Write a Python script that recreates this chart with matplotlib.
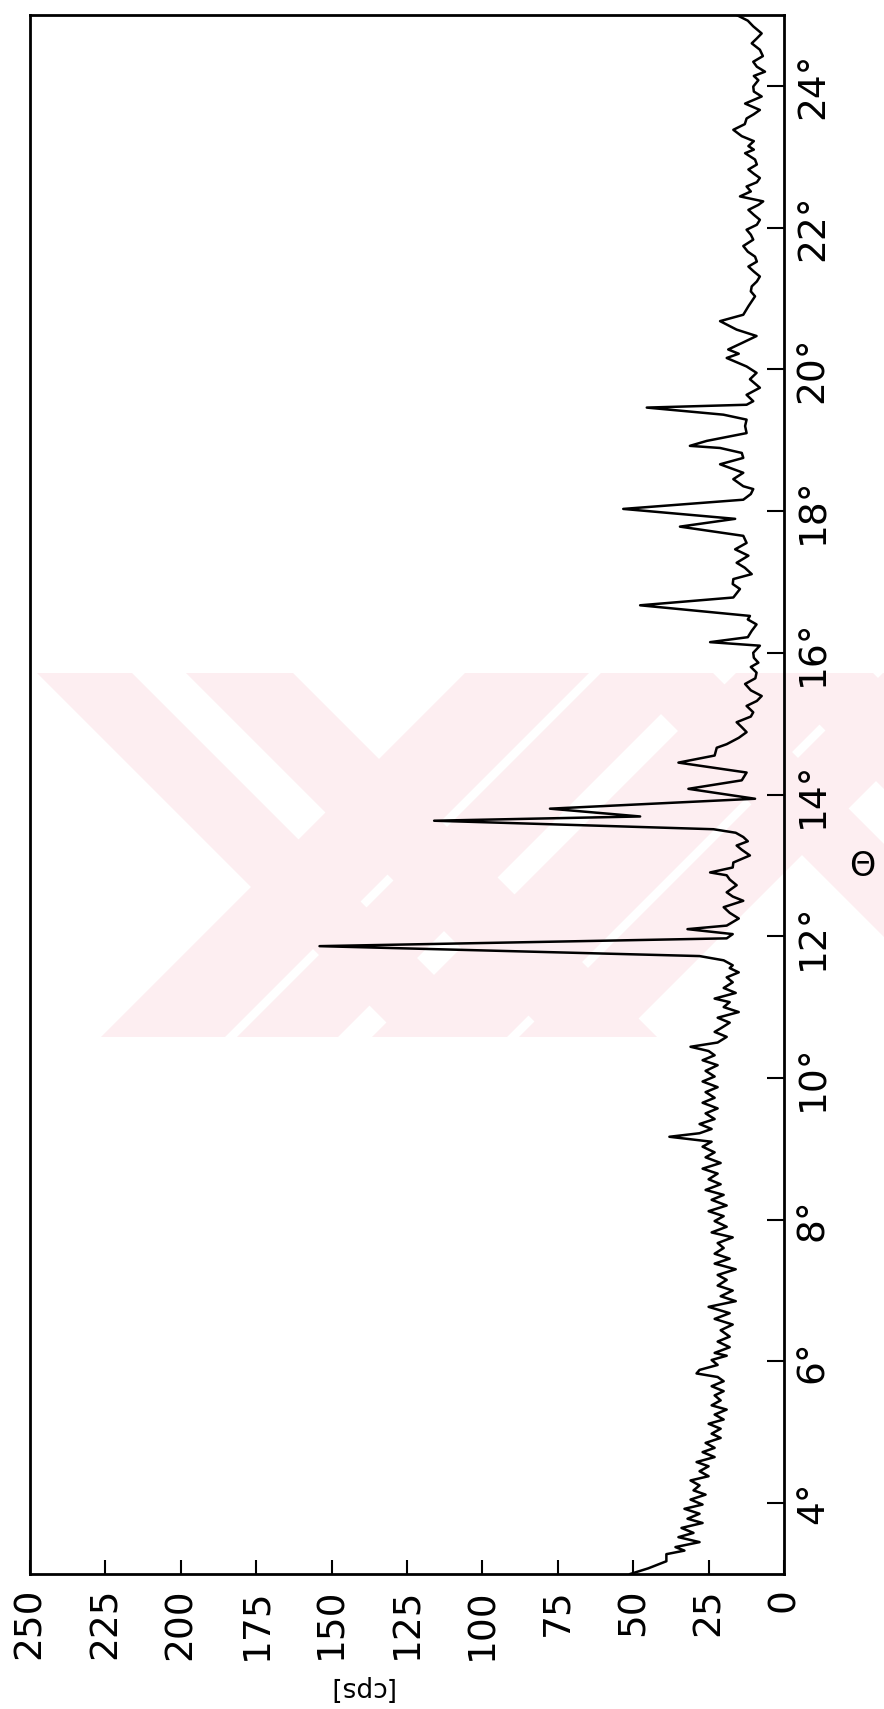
import matplotlib
matplotlib.use("Agg")
import matplotlib.pyplot as plt
from matplotlib.patches import Polygon, Rectangle

# diffraction scan: angle theta (deg) and intensity (counts per second)
theta = [3.00, 3.08, 3.18, 3.28, 3.33, 3.38, 3.45, 3.52, 3.58, 3.65, 3.72, 3.78, 3.85, 3.92, 3.98,
         4.05, 4.12, 4.18, 4.25, 4.32, 4.38, 4.45, 4.52, 4.58, 4.65, 4.72, 4.78, 4.85, 4.92, 4.98,
         5.05, 5.12, 5.18, 5.25, 5.32, 5.38, 5.45, 5.52, 5.58, 5.65, 5.72, 5.78, 5.83, 5.88, 5.95,
         6.02, 6.08, 6.12, 6.20, 6.28, 6.35, 6.44, 6.52, 6.60, 6.68, 6.77, 6.85, 6.92, 7.00, 7.07,
         7.15, 7.22, 7.30, 7.38, 7.45, 7.52, 7.60, 7.67, 7.75, 7.82, 7.90, 7.98, 8.05, 8.12, 8.20,
         8.28, 8.35, 8.42, 8.50, 8.57, 8.65, 8.72, 8.80, 8.88, 8.95, 9.03, 9.10, 9.17, 9.22, 9.28,
         9.35, 9.42, 9.50, 9.57, 9.65, 9.72, 9.80, 9.87, 9.95, 10.02, 10.10, 10.18, 10.25, 10.32,
         10.38, 10.44, 10.50, 10.58, 10.65, 10.70, 10.78, 10.85, 10.93, 11.00, 11.07, 11.12, 11.20,
         11.27, 11.35, 11.42, 11.49, 11.55, 11.59, 11.66, 11.72, 11.86, 11.97, 12.03, 12.10, 12.15,
         12.25, 12.33, 12.41, 12.50, 12.56, 12.62, 12.72, 12.80, 12.86, 12.90, 12.97, 13.04, 13.14,
         13.22, 13.28, 13.34, 13.40, 13.46, 13.51, 13.63, 13.69, 13.80, 13.94, 14.08, 14.20, 14.31,
         14.45, 14.55, 14.66, 14.71, 14.80, 14.88, 14.95, 15.02, 15.10, 15.16, 15.25, 15.32, 15.39,
         15.47, 15.56, 15.64, 15.72, 15.80, 15.86, 15.93, 16.00, 16.10, 16.15, 16.22, 16.31, 16.40,
         16.47, 16.52, 16.67, 16.78, 16.90, 16.97, 17.04, 17.11, 17.20, 17.27, 17.37, 17.46, 17.55,
         17.65, 17.78, 17.89, 18.03, 18.16, 18.24, 18.31, 18.35, 18.45, 18.54, 18.66, 18.75, 18.82,
         18.89, 18.92, 18.99, 19.10, 19.20, 19.29, 19.36, 19.46, 19.50, 19.55, 19.64, 19.74, 19.86,
         19.95, 20.04, 20.16, 20.22, 20.28, 20.37, 20.47, 20.56, 20.68, 20.77, 20.89, 21.03, 21.10,
         21.17, 21.24, 21.31, 21.38, 21.45, 21.52, 21.59, 21.66, 21.74, 21.83, 21.90, 21.97, 22.04,
         22.11, 22.18, 22.25, 22.32, 22.37, 22.44, 22.51, 22.58, 22.64, 22.70, 22.76, 22.82, 22.89,
         22.96, 23.05, 23.10, 23.15, 23.22, 23.29, 23.38, 23.46, 23.54, 23.60, 23.66, 23.75, 23.85,
         23.92, 23.99, 24.08, 24.14, 24.20, 24.27, 24.34, 24.42, 24.51, 24.60, 24.67, 24.74, 24.84,
         24.92, 25.00]
cps = [51, 45, 39, 39, 33, 36, 28, 35, 30, 34, 27, 32, 28, 33, 27,
       31, 26, 30, 28, 31, 25, 28, 25, 29, 23, 27, 23, 26, 21, 24,
       21, 25, 20, 23, 19, 24, 21, 23, 20, 24, 20, 22, 29, 28, 22,
       24, 19, 23, 18, 22, 18, 21, 17, 23, 18, 25, 16, 21, 17, 22,
       19, 22, 16, 23, 18, 23, 20, 22, 17, 24, 19, 23, 20, 25, 19,
       24, 20, 26, 21, 25, 22, 27, 21, 26, 23, 27, 24, 38, 28, 24,
       28, 23, 26, 22, 27, 23, 26, 22, 27, 23, 26, 22, 27, 23,
       25, 31, 22, 19, 23, 21, 18, 22, 15, 20, 18, 23, 16,
       20, 17, 19, 15, 18, 17, 20, 28, 154, 19, 17, 32, 19,
       15, 18, 20, 13.5, 17, 19, 15.7, 18, 19, 24.5, 17, 16.8, 11.3,
       14, 15.7, 12, 13.5, 16, 23.4, 116, 47.7, 77.6, 9.6, 31.7, 14, 12.4,
       35, 23, 22.3, 19, 15, 12.4, 14, 15.7, 11, 10.2, 12.4, 9, 7.4,
       11, 12.9, 9.5, 9.1, 11, 8.5, 10, 10.2, 8.0, 24.5, 12, 10.7, 9.1,
       12, 11.3, 47.7, 16.8, 14.6, 17, 16.8, 10.7, 13, 15.7, 11.8, 16.2, 12.4,
       13.5, 34.5, 16.2, 53.3, 13.5, 11, 10.2, 13.5, 16.8, 13.5, 21.2, 13.5, 14,
       21.2, 31.2, 25.6, 12.4, 12.9, 12.4, 20.1, 45.5, 12.4, 10.2, 12.4, 8.0, 11.3,
       9.1, 12.4, 19, 15, 18.5, 14, 9.1, 15.7, 21.2, 13.5, 11.8, 9.6, 11,
       10.7, 9, 8.0, 10, 11.8, 9, 9.6, 12, 13.5, 10.2, 11, 12.4, 9,
       8.0, 10, 11.8, 8.5, 6.9, 14.6, 11, 12.4, 9, 8.0, 10, 11.8, 9,
       9.6, 12.9, 10, 11.8, 10, 14, 16.8, 13, 12.4, 10, 8.0, 12.9, 7.4,
       10, 10.2, 8.5, 10, 6.3, 9, 10.2, 7, 8.0, 10.7, 9, 7.4, 10.2,
       12, 15.7]

cps_ticks = list(range(0, 251, 25))
theta_ticks = list(range(4, 25, 2))

W, H = 884, 1709
fig = plt.figure(figsize=(W / 100, H / 100), dpi=100)
plt.rcParams["font.family"] = ["DejaVu Sans"]

# faint stamp behind the plot, in pixel units of the page
bg = fig.add_axes([0, 0, 1, 1], zorder=0)
bg.set_xlim(0, W)
bg.set_ylim(H, 0)
bg.axis("off")
stamp_top, stamp_bot, stamp_left = 673, 1037, 37
stamp_color = "#fdeef1"
box = Rectangle((stamp_left, stamp_top), W - stamp_left, stamp_bot - stamp_top,
                transform=bg.transData, facecolor="none", edgecolor="none")
bg.add_patch(box)
down_bands = [(-636, -541), (-487, -380), (-53, 40), (95, 200)]   # x - y ranges
up_bands = [(1138, 1262), (1274, 1375), (1409, 1544), (1556, 1657)]  # x + y ranges
for lo, hi in down_bands:
    pts = [(lo + stamp_top, stamp_top), (hi + stamp_top, stamp_top),
           (hi + stamp_bot, stamp_bot), (lo + stamp_bot, stamp_bot)]
    p = Polygon(pts, closed=True, facecolor=stamp_color, edgecolor="none")
    bg.add_patch(p)
    p.set_clip_path(box)
for lo, hi in up_bands:
    pts = [(lo - stamp_top, stamp_top), (hi - stamp_top, stamp_top),
           (hi - stamp_bot, stamp_bot), (lo - stamp_bot, stamp_bot)]
    p = Polygon(pts, closed=True, facecolor=stamp_color, edgecolor="none")
    bg.add_patch(p)
    p.set_clip_path(box)

ax = fig.add_axes([30 / W, 1 - 1574 / H, 754 / W, 1559 / H], zorder=1)
ax.patch.set_alpha(0)
ax.plot(cps, theta, color="black", linewidth=1.8)

ax.set_xlim(250, 0)
ax.set_ylim(3, 25)
ax.set_xticks(cps_ticks)
ax.set_xticklabels([str(v) for v in cps_ticks])
ax.yaxis.tick_right()
ax.set_yticks(theta_ticks)
ax.set_yticklabels([f"{v}°" for v in theta_ticks])

ax.tick_params(axis="x", direction="in", length=10, width=1.5, pad=10,
               labelsize=27, labelrotation=90, top=False)
ax.tick_params(axis="y", direction="in", length=12, width=1.5, pad=8,
               labelsize=27, labelrotation=90, left=False, right=True)
for lab in ax.get_yticklabels():
    lab.set_va("center")
for s in ax.spines.values():
    s.set_linewidth(2)

fig.text(360 / W, 1 - 1688 / H, "[cps]", rotation=180, ha="center", va="center", fontsize=19)
fig.text(862 / W, 1 - 866 / H, "Θ", ha="center", va="center", fontsize=24)

fig.savefig("out.png", dpi=100)
